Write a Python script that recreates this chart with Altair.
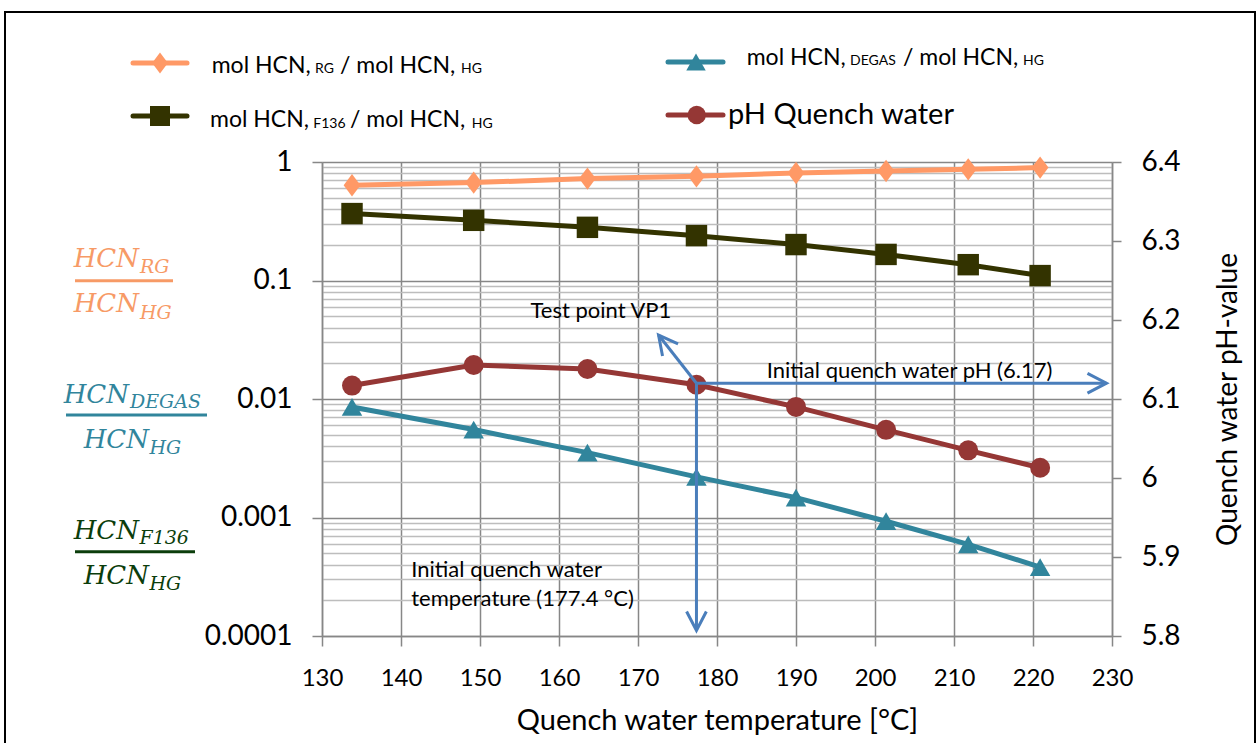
import math
import altair as alt
import pandas as pd

# ---------------- data ----------------
temperature = [133.8, 149.2, 163.6, 177.4, 190.0, 201.4, 211.8, 220.9]
ratio_rg = [0.636, 0.670, 0.724, 0.757, 0.808, 0.839, 0.867, 0.897]
ratio_f136 = [0.367, 0.322, 0.281, 0.239, 0.201, 0.166, 0.136, 0.110]
ratio_degas = [0.00857, 0.00552, 0.00353, 0.00220, 0.00147, 0.00093, 0.000594, 0.000382]
ph_quench = [6.117, 6.143, 6.138, 6.118, 6.090, 6.061, 6.035, 6.013]

x_ticks = [130, 140, 150, 160, 170, 180, 190, 200, 210, 220, 230]
ph_ticks = [5.8, 5.9, 6.0, 6.1, 6.2, 6.3, 6.4]
decades = [0.0001, 0.001, 0.01, 0.1]
log_ticks = [k * d for d in decades for k in range(1, 10)] + [1]

# annotation geometry (data units: temperature, pH)
arrow_tail_t = [177.4, 177.4, 177.4]
arrow_tail_ph = [6.12, 6.12, 6.12]
arrow_tip_t = [229.3, 177.4, 172.6]
arrow_tip_ph = [6.12, 5.807, 6.181]
note_text = ["Test point VP1", "Initial quench water pH (6.17)",
             "Initial quench water", "temperature (177.4 °C)"]
note_t = [156.4, 186.3, 141.3, 141.3]
note_ph = [6.202, 6.127, 5.875, 5.838]

# ---------------- styling ----------------
W, H = 790, 474
OX, OY = 322, 162
C_RG, C_F136, C_DEG, C_PH = "#FF9966", "#333300", "#31859C", "#953735"
C_ARROW = "#4A7EBB"
MAJOR, MINOR = "#878787", "#BDBDBD"
FONT = "Lato"
MATH = "DejaVu Serif"
DIAMOND = "M0,-1L0.75,0L0,1L-0.75,0Z"
CHEVRON = "M-1,-0.52L0,0L-1,0.52"

df = pd.DataFrame({"temp": temperature, "RG": ratio_rg, "F136": ratio_f136,
                   "DEGAS": ratio_degas, "ph": ph_quench})

ppt = W / (x_ticks[-1] - x_ticks[0])
pph = H / (ph_ticks[-1] - ph_ticks[0])
angles = [math.degrees(math.atan2(-(b2 - b1) * pph, (a2 - a1) * ppt)) % 360
          for a1, b1, a2, b2 in zip(arrow_tail_t, arrow_tail_ph, arrow_tip_t, arrow_tip_ph)]
arrows = pd.DataFrame({"temp": arrow_tail_t, "ph": arrow_tail_ph,
                       "temp2": arrow_tip_t, "ph2": arrow_tip_ph})
heads = pd.DataFrame({"temp": arrow_tip_t, "ph": arrow_tip_ph, "angle": angles})
notes = pd.DataFrame({"temp": note_t, "ph": note_ph, "label": note_text})

xscale = alt.Scale(domain=[x_ticks[0], x_ticks[-1]], nice=False)
x_axis = alt.Axis(values=x_ticks, title="Quench water temperature [°C]", grid=True,
                  gridColor=MAJOR, gridWidth=1.5, tickColor=MAJOR, tickSize=10,
                  tickWidth=1.5, labelFontSize=24, labelPadding=20, labelFlush=False,
                  domainColor=MAJOR, domainWidth=1.5, titleFontSize=29, titlePadding=16)
X = alt.X("temp:Q", scale=xscale, axis=x_axis)

DEC = "abs(log(datum.value)/LN10 - round(log(datum.value)/LN10)) < 1e-6"
left_axis = alt.Axis(
    orient="left", values=log_ticks,
    labelExpr=f"({DEC}) ? format(datum.value, '.4~f') : ''",
    gridColor={"condition": {"test": DEC, "value": MAJOR}, "value": MINOR},
    gridWidth=1.6,
    tickColor={"condition": {"test": DEC, "value": MAJOR}, "value": "rgba(0,0,0,0)"},
    tickSize=10, tickWidth=1.5, labelFontSize=28, labelPadding=20, labelOverlap=False,
    domainColor=MAJOR, domainWidth=1.5, title=None)
Ylog = alt.Y("ratio:Q", scale=alt.Scale(type="log", domain=[0.0001, 1], nice=False),
             axis=left_axis)

right_axis = alt.Axis(orient="right", values=ph_ticks, format=".1~f", grid=False,
                      tickColor=MAJOR, tickSize=9, tickWidth=1.5, labelFontSize=28,
                      labelPadding=20, domainColor=MAJOR, domainWidth=1.5,
                      title="Quench water pH-value", titleFontSize=28, titleAngle=270,
                      titlePadding=62)
Yph = alt.Y("ph:Q", scale=alt.Scale(domain=[ph_ticks[0], ph_ticks[-1]], nice=False,
                                    zero=False), axis=right_axis)

series = ["RG", "F136", "DEGAS"]
base = alt.Chart(df).transform_fold(series, as_=["series", "ratio"])
ratio_lines = base.mark_line(strokeWidth=5).encode(
    x=X, y=Ylog, detail="series:N",
    color=alt.Color("series:N", scale=alt.Scale(domain=series, range=[C_RG, C_F136, C_DEG]),
                    legend=None))
ratio_pts = base.mark_point(filled=True, opacity=1).encode(
    x=X, y=Ylog,
    color=alt.Color("series:N", scale=alt.Scale(domain=series, range=[C_RG, C_F136, C_DEG]),
                    legend=None),
    shape=alt.Shape("series:N", scale=alt.Scale(domain=series,
                                                range=[DIAMOND, "square", "triangle-up"]),
                    legend=None),
    size=alt.Size("series:N", scale=alt.Scale(domain=series, range=[500, 420, 400]),
                  legend=None))

# ---------------- decorations (page-pixel placed) ----------------
ONE = alt.InlineData(values=[{"k": 1}])


def px(v):
    return alt.value(v - OX)


def py(v):
    return alt.value(v - OY)


def label(text, x, y, size, color="black", align="left", font=FONT, style="normal"):
    return alt.Chart(ONE).mark_text(text=text, align=align, baseline="alphabetic",
                                    font=font, fontSize=size, fontStyle=style,
                                    color=color).encode(x=px(x), y=py(y))


def hline(x1, x2, y, color, width, cap="butt"):
    return alt.Chart(ONE).mark_rule(color=color, strokeWidth=width, strokeCap=cap).encode(
        x=px(x1), x2=px(x2), y=py(y))


def marker(x, y, shape, size, color):
    return alt.Chart(ONE).mark_point(shape=shape, size=size, filled=True, opacity=1,
                                     color=color).encode(x=px(x), y=py(y))


C_FR1, C_FR3 = "#F79A66", "#0B3D0B"
deco = [
    alt.Chart(ONE).mark_rect(fillOpacity=0, stroke="black", strokeWidth=2).encode(
        x=px(5), x2=px(1255), y=py(12), y2=py(790)),
    # legend
    hline(133, 187, 63, C_RG, 5, "round"), marker(160, 63, DIAMOND, 440, C_RG),
    label("mol HCN,", 211.7, 72.7, 23), label("RG", 315, 73, 14),
    label("/ mol HCN,", 340, 72.7, 23), label("HG", 461, 73, 14),
    hline(133, 187, 116, C_F136, 5, "round"), marker(160, 116, "square", 400, C_F136),
    label("mol HCN,", 210, 127.3, 23), label("F136", 313.3, 128, 14),
    label("/ mol HCN,", 350, 127.3, 23), label("HG", 471.7, 128, 14),
    hline(668, 723, 62, C_DEG, 5, "round"), marker(696, 62, "triangle-up", 380, C_DEG),
    label("mol HCN,", 746.7, 64.7, 23), label("DEGAS", 850, 65.3, 14),
    label("/ mol HCN,", 903, 64.7, 23), label("HG", 1023, 65.3, 14),
    hline(668, 723, 115, C_PH, 5, "round"), marker(696.7, 115, "circle", 340, C_PH),
    label("pH Quench water", 728, 124.3, 29),
    # fraction labels on the left
    label("HCN", 139, 267, 26, C_FR1, "right", MATH, "italic"),
    label("RG", 140, 273, 19, C_FR1, "left", MATH, "italic"),
    hline(75, 173, 280.7, C_FR1, 3),
    label("HCN", 139, 312, 26, C_FR1, "right", MATH, "italic"),
    label("HG", 140, 319, 19, C_FR1, "left", MATH, "italic"),
    label("HCN", 129, 402.7, 26, C_DEG, "right", MATH, "italic"),
    label("DEGAS", 130, 407.7, 19, C_DEG, "left", MATH, "italic"),
    hline(66, 207, 415, C_DEG, 3),
    label("HCN", 149, 447.7, 26, C_DEG, "right", MATH, "italic"),
    label("HG", 149.5, 453.7, 19, C_DEG, "left", MATH, "italic"),
    label("HCN", 139, 539.3, 26, C_FR3, "right", MATH, "italic"),
    label("F136", 139.5, 544.3, 19, C_FR3, "left", MATH, "italic"),
    hline(75, 195, 551.7, C_FR3, 3),
    label("HCN", 149, 584.3, 26, C_FR3, "right", MATH, "italic"),
    label("HG", 149.5, 590.3, 19, C_FR3, "left", MATH, "italic"),
]

left_group = alt.layer(ratio_lines, ratio_pts, *deco)

ph_line = alt.Chart(df).mark_line(color=C_PH, strokeWidth=5).encode(x=X, y=Yph)
ph_pts = alt.Chart(df).mark_point(shape="circle", size=400, filled=True, opacity=1,
                                  color=C_PH).encode(x=X, y=Yph)
arrow_lines = alt.Chart(arrows).mark_rule(color=C_ARROW, strokeWidth=3).encode(
    x=X, x2="temp2:Q", y=Yph, y2="ph2:Q")
arrow_heads = alt.Chart(heads).mark_point(shape=CHEVRON, size=1444, filled=False,
                                          strokeWidth=3, color=C_ARROW, opacity=1).encode(
    x=X, y=Yph, angle=alt.Angle("angle:Q", scale=None))
note_marks = alt.Chart(notes).mark_text(align="left", baseline="alphabetic", font=FONT,
                                        fontSize=22, color="black").encode(
    x=X, y=Yph, text="label:N")

right_group = alt.layer(ph_line, ph_pts, arrow_lines, arrow_heads, note_marks)

chart = alt.layer(left_group, right_group).resolve_scale(y="independent").properties(
    width=W, height=H,
    autosize=alt.AutoSizeParams(type="none"),
    padding={"left": OX, "top": OY, "right": 1260 - OX - W, "bottom": 743 - OY - H},
).configure_view(stroke=None).configure_axis(
    labelFont=FONT, titleFont=FONT, labelColor="black", titleColor="black",
    titleFontWeight="normal")

chart.save("out.html", embed_options={"renderer": "svg", "actions": False})
